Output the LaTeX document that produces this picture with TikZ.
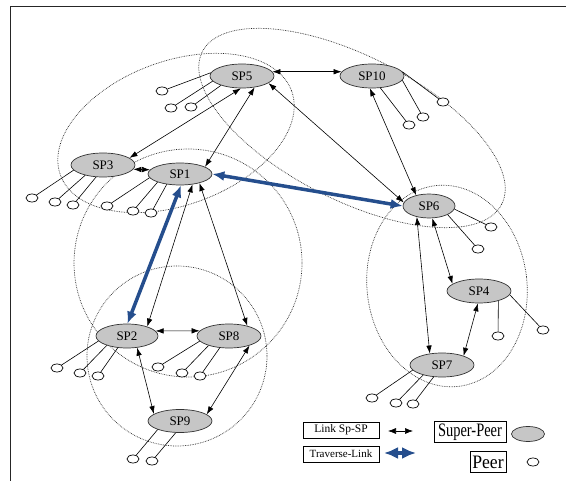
\documentclass[tikz,border=0pt]{standalone}
\usepackage{fontspec}
\usepackage{graphicx}
\setmainfont{Liberation Serif}
\usetikzlibrary{shapes.geometric,arrows.meta}

\definecolor{travblue}{RGB}{37,78,141}

\tikzset{
  superpeer/.style={ellipse, draw=black!80, fill=gray!45, line width=0.7pt,
    minimum width=64pt, minimum height=24pt, inner sep=0pt,
    font=\fontsize{13}{13}\selectfont},
  peer/.style={ellipse, draw, fill=white, line width=0.7pt,
    minimum width=12pt, minimum height=8pt, inner sep=0pt},
  link/.style={>={Latex[length=8pt,width=5.5pt]}, <->, line width=0.6pt},
  traverse/.style={>={Latex[length=12pt,width=10pt]}, <->, line width=3.5pt, travblue},
  cluster/.style={densely dotted, line width=0.7pt, black!85},
  legbox/.style={draw, line width=0.8pt, inner sep=0pt},
}

\begin{document}
\begin{tikzpicture}[x=1pt,y=-1pt]
  \useasboundingbox (0,0) rectangle (566,481);
  \draw[line width=1pt, black!85] (10,481) |- (566,7);

  % dotted clusters
  \draw[cluster, rotate around={20:(176,133)}] (176,133) ellipse (123 and 72);
  \draw[cluster, rotate around={-27:(352,128)}] (352,128) ellipse (168 and 72);
  \draw[cluster] (188,263) circle (114);
  \draw[cluster] (177,356) circle (90);
  \draw[cluster, rotate around={6.5:(447,286)}] (447,286) ellipse (80 and 101);

  % super-peers
  \node[superpeer] (sp5) at (242,76) {SP5};
  \node[superpeer] (sp10) at (372,76) {SP10};
  \node[superpeer] (sp3) at (103,165) {SP3};
  \node[superpeer, minimum height=22pt] (sp1) at (180,174) {SP1};
  \node[superpeer, minimum width=52pt] (sp6) at (429,206) {SP6};
  \node[superpeer] (sp4) at (479,291) {SP4};
  \node[superpeer] (sp7) at (442,365) {SP7};
  \node[superpeer, minimum width=62pt] (sp2) at (127,336) {SP2};
  \node[superpeer] (sp8) at (229,336) {SP8};
  \node[superpeer, minimum height=23pt] (sp9) at (180,421) {SP9};

  % peers hanging off each super-peer: sp/index/x/y/anchor
  \foreach \s/\i/\x/\y/\a in {5/1/162/91/174, 5/2/171/108/190, 5/3/191/107/204,
      3/1/32/198/190, 3/2/55/202/210, 3/3/73/205/240,
      1/1/107/206/187, 1/2/133/211/200, 1/3/151/213/218,
      10/1/443/102/8, 10/2/423/117/352, 10/3/409/125/305,
      6/1/491/227/353, 6/2/478/249/335,
      4/1/498/336/333, 4/2/543/330/353,
      7/1/372/398/190, 7/2/396/403/208, 7/3/413/404/235,
      2/1/57/368/190, 2/2/80/373/205, 2/3/98/376/232,
      8/1/158/367/190, 8/2/182/373/205, 8/3/200/376/232,
      9/1/133/459/201, 9/2/152/461/250}{
    \node[peer] (p\s-\i) at (\x,\y) {};
    \draw[line width=0.6pt] (sp\s.\a) -- (p\s-\i);
  }

  % super-peer links
  \draw[link] (sp5.8) -- (sp10.172);
  \draw[link] (sp5.265) -- (sp3.15);
  \draw[link] (sp5.318) -- (sp1.16);
  \draw[link] (sp5.345) -- (sp6.172);
  \draw[link] (sp10.260) -- (sp6.140);
  \draw[link] (sp3.352) -- (sp1.172);
  \draw[link] (sp1.320) -- (sp2.25);
  \draw[link] (sp1.335) -- (sp8.29);
  \draw[link] (sp2.10) -- (sp8.170);
  \draw[link] (sp2.311) -- (sp9.165);
  \draw[link] (sp8.335) -- (sp9.14);
  \draw[link] (sp6.222) -- (sp7.137);
  \draw[link] (sp6.285) -- (sp4.165);
  \draw[link] (sp4.265) -- (sp7.23);

  % traversed links
  \draw[traverse] (sp1.275) -- (sp2.88);
  \draw[traverse] (sp1.east) -- (sp6.west);

  % legend
  \node[legbox, minimum width=76pt, minimum height=16pt, font=\fontsize{11.5}{11.5}\selectfont] (lnk) at (341,430) {Link Sp-SP};
  \node[legbox, minimum width=76pt, minimum height=16pt, font=\fontsize{11}{11}\selectfont] (trv) at (341,454) {Traverse-Link};
  \coordinate (lnk-a) at (388,431);
  \coordinate (lnk-b) at (413,431);
  \draw[link, >={Latex[length=8pt,width=6pt]}] (lnk-a) -- (lnk-b);
  \coordinate (trv-a) at (384,453);
  \coordinate (trv-b) at (416,453);
  \draw[traverse, line width=4pt, >={Latex[length=14pt,width=12pt]}] (trv-a) -- (trv-b);
  \node[legbox, minimum width=72pt, minimum height=21pt, font=\fontsize{19}{19}\selectfont] (spk) at (470,432) {\scalebox{0.76}[1]{Super-Peer}};
  \node[superpeer, minimum width=33pt, minimum height=15pt] (spk-mark) at (528,434) {};
  \node[legbox, minimum width=36pt, minimum height=21pt, font=\fontsize{19}{19}\selectfont] (prk) at (488,462) {\scalebox{0.93}[1]{Peer}};
  \node[peer] (prk-mark) at (533,462) {};
\end{tikzpicture}
\end{document}
